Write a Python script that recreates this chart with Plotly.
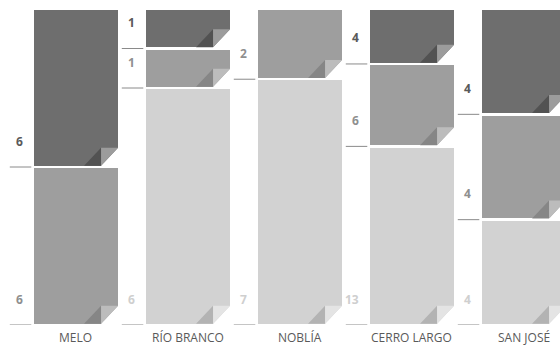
import plotly.graph_objects as go

# Category names and counts per group (stacked bottom -> top)
categories = ["MELO", "RÍO BRANCO", "NOBLÍA", "CERRO LARGO", "SAN JOSÉ"]
light_vals = [0, 6, 7, 13, 4]
medium_vals = [6, 1, 2, 6, 4]
dark_vals = [6, 1, 0, 4, 4]

series = [
    # (values, bar colour, fold shadow, fold flap, label colour)
    (light_vals, "#d2d2d2", "#b3b3b3", "#e4e4e4", "#cfcfcf"),
    (medium_vals, "#9e9e9e", "#868686", "#bcbcbc", "#8f8f8f"),
    (dark_vals, "#6e6e6e", "#525252", "#9c9c9c", "#5a5a5a"),
]

BAR_W = 0.777
LINE_W = 2.5
INSET = LINE_W / 2.0
FONT = "Open Sans, Noto Sans, sans-serif"

x_pos = list(range(len(categories)))
totals = [sum(s[0][i] for s in series) for i in x_pos]

fig = go.Figure()
for vals, col, _, _, _ in series:
    fig.add_trace(go.Bar(
        x=x_pos, y=vals, width=BAR_W,
        marker=dict(color=col, line=dict(color="white", width=LINE_W)),
        hoverinfo="skip", showlegend=False,
    ))

shapes = []
annotations = []
for i in x_pos:
    base = 0.0
    for vals, col, shadow, flap, lab_col in series:
        v = vals[i]
        if v <= 0:
            continue
        pct = v / totals[i] * 100.0
        right = i + BAR_W / 2
        left = i - BAR_W / 2
        R = -INSET
        B = INSET
        fw, fh = 17, 18
        common = dict(xref="x", yref="y", xsizemode="pixel", ysizemode="pixel",
                      xanchor=right, yanchor=base, layer="above")
        # cut corner
        shapes.append(dict(type="path", **common,
                           path=f"M {R-fw} {B-2} L {R-fw} {B} L {R} {B+fh} L {R+2} {B+fh} L {R+2} {B-2} Z",
                           fillcolor="white", line=dict(width=0)))
        # fold shadow
        shapes.append(dict(type="path", **common,
                           path=f"M {R-2*fw} {B} L {R-fw} {B+fh} L {R-fw} {B} Z",
                           fillcolor=shadow, line=dict(width=0)))
        # folded flap
        shapes.append(dict(type="path", **common,
                           path=f"M {R-fw} {B+fh} L {R} {B+fh} L {R-fw} {B} Z",
                           fillcolor=flap, line=dict(width=0)))
        # boundary tick to the left of the bar
        shapes.append(dict(type="line", xref="x", yref="y", xsizemode="pixel",
                           xanchor=left, x0=-22.5, x1=-1, y0=base, y1=base,
                           line=dict(color="#8a8a8a", width=1), layer="above"))
        annotations.append(dict(x=left, y=base, xref="x", yref="y",
                                text=f"<b>{v}</b>", showarrow=False,
                                xanchor="right", yanchor="middle",
                                xshift=-7, yshift=26,
                                font=dict(family=FONT, size=12, color=lab_col)))
        base += pct

for i, name in enumerate(categories):
    annotations.append(dict(x=i, y=0, xref="x", yref="paper", text=name,
                            showarrow=False, xanchor="center", yanchor="middle",
                            yshift=-12,
                            font=dict(family=FONT, size=12, color="#5a5a5a")))

fig.update_layout(
    width=560, height=346,
    margin=dict(l=0, r=0, t=9, b=21),
    barmode="stack", barnorm="percent",
    paper_bgcolor="white", plot_bgcolor="white",
    xaxis=dict(range=[-75.8 / 112, (560 - 75.8) / 112], showticklabels=False,
               showgrid=False, zeroline=False, showline=False, ticks=""),
    yaxis=dict(range=[0, 100], showticklabels=False, showgrid=False,
               zeroline=False, showline=False, ticks=""),
    shapes=shapes, annotations=annotations,
)

fig.write_html("out.html")
